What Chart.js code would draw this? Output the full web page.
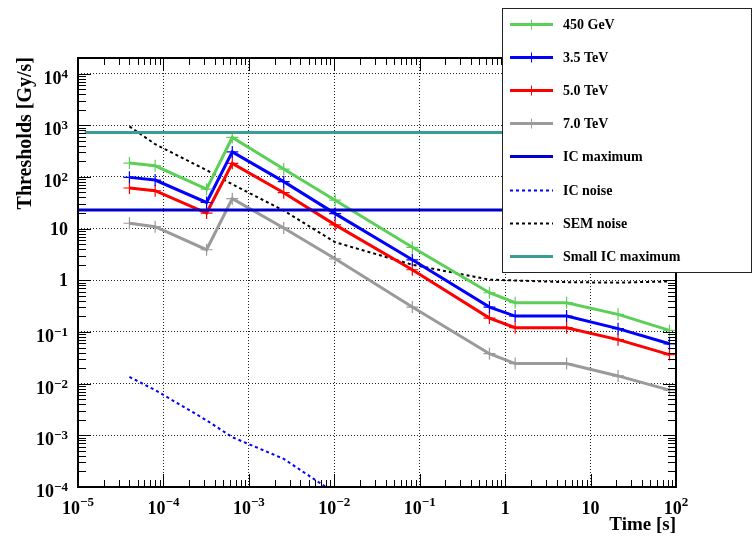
<!DOCTYPE html>
<html>
<head>
<meta charset="utf-8">
<title>BLM thresholds</title>
<script src="https://cdn.jsdelivr.net/npm/chart.js@4.4.0/dist/chart.umd.min.js"></script>
<style>
  html, body { margin: 0; padding: 0; background: #fff; }
  #wrap { position: relative; width: 753px; height: 537px; }
</style>
</head>
<body>
<div id="wrap"><canvas id="thresholds"></canvas></div>
<script>
// running-sum integration times [s]
var times = [4e-5, 8e-5, 3.2e-4, 6.4e-4, 2.56e-3, 1.024e-2, 8.192e-2, 0.655, 1.31, 5.24, 20.97, 83.89];

// thresholds per beam energy [Gy/s]
var thr450GeV = [185, 164, 58, 580, 142, 35.5, 4.35, 0.574, 0.368, 0.368, 0.219, 0.107];
var thr3p5TeV = [98, 87, 32, 305, 81, 19.5, 2.49, 0.303, 0.203, 0.203, 0.116, 0.059];
var thr5p0TeV = [61, 54, 20, 183, 49.5, 11.8, 1.6, 0.186, 0.121, 0.121, 0.071, 0.0365];
var thr7p0TeV = [12.7, 10.9, 3.9, 38, 10.3, 2.6, 0.303, 0.038, 0.0244, 0.0244, 0.0141, 0.0075];

// detector limits
var icNoiseTimes = [4e-5, 8e-5, 3.2e-4, 6.4e-4, 2.56e-3, 1.024e-2];
var icNoise = [0.0135, 7.5e-3, 1.95e-3, 9.2e-4, 3.5e-4, 7.6e-5];
var semNoise = [950, 430, 135, 72, 22.3, 5.45, 2.0, 1.03, 0.99, 0.92, 0.9, 0.95];
var icMaxTimes = [1e-5, 1e2];
var icMax = [23, 23];
var smallIcMaxTimes = [1.2e-5, 1e2];
var smallIcMax = [720, 720];

// axis labels
var xTickLabels = ['10^-5', '10^-4', '10^-3', '10^-2', '10^-1', '1', '10', '10^2'];
var yTickLabels = ['10^-4', '10^-3', '10^-2', '10^-1', '1', '10', '10^2', '10^3', '10^4'];

function pts(xs, ys) {
  return xs.map(function (x, i) { return { x: x, y: ys[i] }; });
}

function labelValue(s) {
  var p = s.split('^');
  return p.length > 1 ? Math.pow(10, +p[1]) : +p[0];
}

function isDecade(v) {
  var l = Math.log10(v);
  return Math.abs(l - Math.round(l)) < 1e-6;
}

// 1..9 x 10^n inside [min, max]
function logTicks(scale) {
  var out = [];
  var lo = Math.floor(Math.log10(scale.min)), hi = Math.ceil(Math.log10(scale.max));
  for (var e = lo; e <= hi; e++) {
    for (var m = 1; m <= 9; m++) {
      var v = m * Math.pow(10, e);
      if (v >= scale.min * 0.999 && v <= scale.max * 1.001) out.push({ value: v, major: m === 1 });
    }
  }
  scale.ticks = out;
}

var SERIF = '"Liberation Serif", "DejaVu Serif", serif';

function gridColor(ctx) {
  return ctx.tick && isDecade(ctx.tick.value) ? '#222' : 'rgba(0,0,0,0)';
}

// label like 10^-3 with a raised exponent
function drawPowLabel(ctx, text, x, baseY, expY, align) {
  var p = text.split('^');
  ctx.font = 'bold 18px ' + SERIF;
  var wb = ctx.measureText(p[0]).width;
  var we = 0;
  if (p.length > 1) {
    ctx.font = 'bold 13px ' + SERIF;
    we = ctx.measureText(p[1].replace('-', '\u2212')).width;
  }
  var total = wb + we;
  var x0 = align === 'center' ? x - total / 2 : x - total;
  ctx.textAlign = 'left';
  ctx.textBaseline = 'alphabetic';
  ctx.font = 'bold 18px ' + SERIF;
  ctx.fillText(p[0], x0, baseY);
  if (p.length > 1) {
    ctx.font = 'bold 13px ' + SERIF;
    ctx.fillText(p[1].replace('-', '\u2212'), x0 + wb, expY);
  }
}

var frame = {
  id: 'frame',
  afterDatasetsDraw: function (chart) {
    var ctx = chart.ctx, a = chart.chartArea;
    var xs = chart.scales.x, ys = chart.scales.y;
    ctx.save();
    ctx.strokeStyle = '#000';
    ctx.lineWidth = 1;
    ctx.beginPath();
    xs.ticks.forEach(function (t) {
      var px = Math.round(xs.getPixelForValue(t.value)) + 0.5;
      var len = isDecade(t.value) ? 13 : 7;
      ctx.moveTo(px, a.bottom); ctx.lineTo(px, a.bottom - len);
      ctx.moveTo(px, a.top); ctx.lineTo(px, a.top + len);
    });
    ys.ticks.forEach(function (t) {
      var py = Math.round(ys.getPixelForValue(t.value)) + 0.5;
      var len = isDecade(t.value) ? 13 : 8;
      ctx.moveTo(a.left, py); ctx.lineTo(a.left + len, py);
      ctx.moveTo(a.right, py); ctx.lineTo(a.right - len, py);
    });
    ctx.stroke();
    ctx.lineWidth = 2;
    ctx.strokeRect(a.left, a.top, a.right - a.left, a.bottom - a.top);

    // tick labels
    ctx.fillStyle = '#000';
    xTickLabels.forEach(function (s) {
      var px = xs.getPixelForValue(labelValue(s));
      drawPowLabel(ctx, s, px, 514, 506, 'center');
    });
    yTickLabels.forEach(function (s) {
      var py = ys.getPixelForValue(labelValue(s));
      if (s.indexOf('^') >= 0) drawPowLabel(ctx, s, 68, py + 10, py + 4, 'right');
      else drawPowLabel(ctx, s, 68, py + 6, py, 'right');
    });

    // axis titles
    ctx.font = 'bold 19px ' + SERIF;
    ctx.textAlign = 'right';
    ctx.textBaseline = 'alphabetic';
    ctx.fillText('Time [s]', a.right, 530);
    ctx.save();
    ctx.translate(31, a.top - 1);
    ctx.rotate(-Math.PI / 2);
    ctx.font = 'bold 20px ' + SERIF;
    ctx.fillText('Thresholds [Gy/s]', 0, 0);
    ctx.restore();
    ctx.restore();
  },
  afterDraw: function (chart) {
    // legend box
    var ctx = chart.ctx;
    var bx = 502, by = 8, bw = 249, bh = 264;
    ctx.save();
    ctx.fillStyle = '#fff';
    ctx.fillRect(bx, by, bw, bh);
    ctx.strokeStyle = '#222';
    ctx.lineWidth = 1;
    ctx.strokeRect(bx + 0.5, by + 0.5, bw, bh);
    var order = chart.data.datasets.slice().sort(function (p, q) { return p.legendIndex - q.legendIndex; });
    order.forEach(function (ds, i) {
      var y = Math.round(23.5 + i * 33.2) + 0.5;
      ctx.strokeStyle = ds.borderColor;
      ctx.lineWidth = ds.borderWidth;
      ctx.setLineDash(ds.borderDash || []);
      ctx.beginPath();
      ctx.moveTo(510, y); ctx.lineTo(553, y);
      ctx.stroke();
      ctx.setLineDash([]);
      if (ds.pointRadius > 0) {
        ctx.lineWidth = 1;
        ctx.beginPath();
        ctx.moveTo(531.5, y - 5); ctx.lineTo(531.5, y + 5);
        ctx.stroke();
      }
      ctx.fillStyle = '#000';
      ctx.font = 'bold 14px ' + SERIF;
      ctx.textAlign = 'left';
      ctx.textBaseline = 'middle';
      ctx.fillText(ds.label, 563, y + 1);
    });
    ctx.restore();
  }
};

function energySet(label, ys, color, idx) {
  return {
    label: label, data: pts(times, ys), legendIndex: idx, order: 2,
    borderColor: color, backgroundColor: color, borderWidth: 3,
    pointStyle: 'cross', pointRadius: 6, pointBorderWidth: 1.2,
    pointBorderColor: color, tension: 0
  };
}

new Chart('thresholds', {
  type: 'line',
  data: {
    datasets: [
      energySet('450 GeV', thr450GeV, '#5ccf58', 0),
      energySet('3.5 TeV', thr3p5TeV, '#0000ff', 1),
      energySet('5.0 TeV', thr5p0TeV, '#ff0000', 2),
      energySet('7.0 TeV', thr7p0TeV, '#9a9a9a', 3),
      { label: 'IC maximum', data: pts(icMaxTimes, icMax), legendIndex: 4, order: 0,
        borderColor: '#0000cc', borderWidth: 3, pointRadius: 0 },
      { label: 'IC noise', data: pts(icNoiseTimes, icNoise), legendIndex: 5, order: 3,
        borderColor: '#0000ff', borderWidth: 2, borderDash: [3, 3], pointRadius: 0 },
      { label: 'SEM noise', data: pts(times, semNoise), legendIndex: 6, order: 3,
        borderColor: '#000', borderWidth: 2, borderDash: [3, 3], pointRadius: 0 },
      { label: 'Small IC maximum', data: pts(smallIcMaxTimes, smallIcMax), legendIndex: 7, order: 0,
        borderColor: '#3a9c97', borderWidth: 3, pointRadius: 0 }
    ]
  },
  options: {
    responsive: true,
    maintainAspectRatio: false,
    animation: false,
    events: [],
    layout: { padding: { left: 0, top: 58, right: 77, bottom: 0 } },
    plugins: { legend: { display: false }, tooltip: { enabled: false } },
    scales: {
      x: {
        type: 'logarithmic', min: 1e-5, max: 1e2,
        afterBuildTicks: logTicks,
        afterFit: function (s) { s.height = 50; },
        ticks: { display: false },
        grid: { drawTicks: false, color: gridColor, lineWidth: 1 },
        border: { display: false, dash: [1, 2] }
      },
      y: {
        type: 'logarithmic', min: 1e-4, max: 2e4,
        afterBuildTicks: logTicks,
        afterFit: function (s) { s.width = 78; },
        ticks: { display: false },
        grid: { drawTicks: false, color: gridColor, lineWidth: 1 },
        border: { display: false, dash: [1, 2] }
      }
    }
  },
  plugins: [frame]
});
</script>
</body>
</html>
